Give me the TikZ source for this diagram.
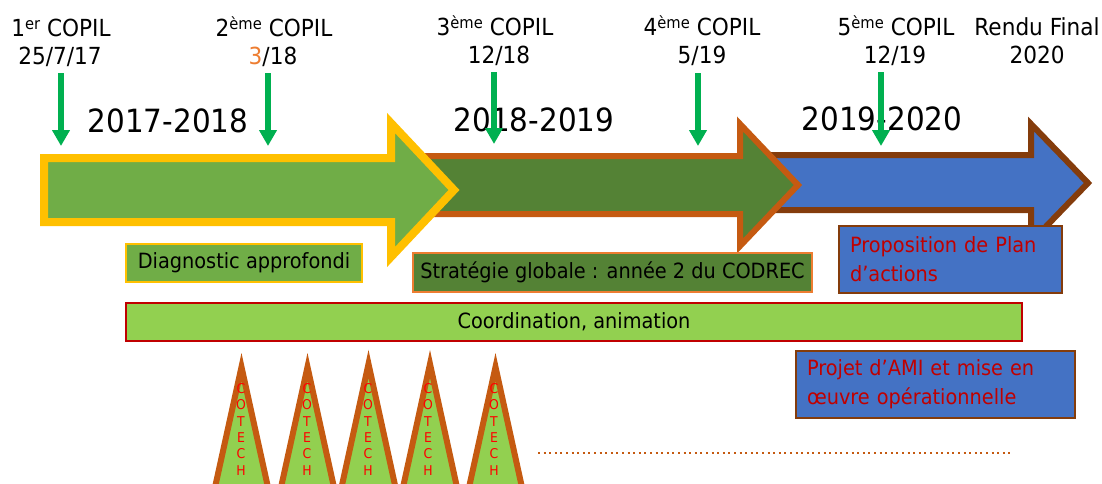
\documentclass[tikz,border=0pt]{standalone}
\usepackage{fontspec}
\setmainfont{DejaVu Sans}[FakeStretch=0.92]
\usetikzlibrary{arrows.meta}
\definecolor{cyellow}{HTML}{FFC000}
\definecolor{cltgreen}{HTML}{70AD47}
\definecolor{cdkgreen}{HTML}{548235}
\definecolor{corange}{HTML}{C55A11}
\definecolor{clorange}{HTML}{ED7D31}
\definecolor{cblue}{HTML}{4472C4}
\definecolor{cbrown}{HTML}{843C0C}
\definecolor{cgreen}{HTML}{00B050}
\definecolor{clime}{HTML}{92D050}
\definecolor{cred}{HTML}{C00000}
\definecolor{cbright}{HTML}{FF0000}
\newcommand{\supx}[1]{\raisebox{6.5pt}{\fontsize{16}{16}\selectfont #1}}
\begin{document}
\begin{tikzpicture}[x=1pt,y=-1pt,
  lbl/.style={inner sep=0pt, anchor=base, font=\fontsize{23.5}{28}\selectfont},
  yr/.style={inner sep=0pt, anchor=base, font=\fontsize{32}{38}\selectfont},
  marker/.style={draw=cgreen, line width=6pt, -{Triangle[width=17pt,length=16pt]}},
  bigarrow/.style={line join=miter, miter limit=20},
  bar/.style={draw, line width=1.2pt, inner sep=0pt, font=\fontsize{21}{29}\selectfont},
  twoline/.style={bar, align=left, inner xsep=11pt, inner ysep=0pt, minimum height=67pt, text=cred},
  tri/.style={draw=corange, fill=clime, line width=6pt, line join=miter, miter limit=20},
  cotech/.style={text=cbright, font=\fontsize{13.5}{16.4}\selectfont, align=center, inner sep=0pt, anchor=north},
  dots/.style={draw=corange, line width=2pt, dash pattern=on 2pt off 3.6pt}
]
\useasboundingbox (0,0) rectangle (1102,483);

% big period arrows
\draw[bigarrow, draw=cbrown, fill=cblue, line width=6pt]
  (760,155) -- (1031,155) -- (1031,124) -- (1088,183) -- (1031,242) -- (1031,210) -- (760,210) -- cycle;
\draw[bigarrow, draw=corange, fill=cdkgreen, line width=6pt]
  (420,156) -- (740,156) -- (740,124) -- (798,185) -- (740,246) -- (740,214) -- (420,214) -- cycle;
\draw[bigarrow, draw=cyellow, fill=cltgreen, line width=8pt]
  (44,158) -- (391,158) -- (391,123) -- (454,190) -- (391,257) -- (391,222) -- (44,222) -- cycle;

% year labels
\node[yr] (y1) at (168,132) {2017-2018};
\node[yr] (y2) at (534,131) {2018-2019};
\node[yr] (y3) at (882,130) {2019-2020};

% COPIL labels
\node[lbl] (c1a) at (61,36) {1\supx{er} COPIL};
\node[lbl] (c1b) at (60,64) {25/7/17};
\node[lbl] (c2a) at (274,36) {2\supx{ème} COPIL};
\node[lbl] (c2b) at (273,64) {\textcolor{clorange}{3}/18};
\node[lbl] (c3a) at (495,35) {3\supx{ème} COPIL};
\node[lbl] (c3b) at (499,63) {12/18};
\node[lbl] (c4a) at (702,35) {4\supx{ème} COPIL};
\node[lbl] (c4b) at (702,63) {5/19};
\node[lbl] (c5a) at (896,35) {5\supx{ème} COPIL};
\node[lbl] (c5b) at (895,63) {12/19};
\node[lbl] (rfa) at (1037,35) {Rendu Final};
\node[lbl] (rfb) at (1037,63) {2020};

% green markers
\coordinate (m1s) at (61,73);  \coordinate (m1e) at (61,146);
\coordinate (m2s) at (268,73); \coordinate (m2e) at (268,146);
\coordinate (m3s) at (494,72); \coordinate (m3e) at (494,144);
\coordinate (m4s) at (698,73); \coordinate (m4e) at (698,146);
\coordinate (m5s) at (881,72); \coordinate (m5e) at (881,146);
\draw[marker] (m1s) -- (m1e);
\draw[marker] (m2s) -- (m2e);
\draw[marker] (m3s) -- (m3e);
\draw[marker] (m4s) -- (m4e);
\draw[marker] (m5s) -- (m5e);

% activity bars
\node[bar, draw=cyellow, fill=cltgreen, minimum width=236pt, minimum height=38pt] (diag) at (244,263) {Diagnostic approfondi};
\node[bar, draw=clorange, fill=cdkgreen, minimum width=399pt, minimum height=39pt] (strat) at (612.5,272.5) {Stratégie globale : année 2 du CODREC};
\node[bar, draw=cred, fill=clime, minimum width=896pt, minimum height=38pt] (coord) at (574,322) {Coordination, animation};
\node[twoline, draw=cbrown, fill=cblue, text width=201pt] (plan) at (950.5,259.5) {Proposition de Plan\\d’actions};
\node[twoline, draw=cbrown, fill=cblue, text width=257pt] (ami) at (935.5,384.5) {Projet d’AMI et mise en\\œuvre opérationnelle};

% COTECH triangles
\draw[tri] (241.5,367) -- (269,492) -- (214,492) -- cycle;
\draw[tri] (307.5,367) -- (335,492) -- (280,492) -- cycle;
\draw[tri] (368.5,364) -- (396.5,492) -- (340.5,492) -- cycle;
\draw[tri] (430,364) -- (458,492) -- (402,492) -- cycle;
\draw[tri] (495.5,367) -- (523,492) -- (468,492) -- cycle;
\node[cotech] (t1) at (241,383) {C\\O\\T\\E\\C\\H};
\node[cotech] (t2) at (307,383) {C\\O\\T\\E\\C\\H};
\node[cotech] (t3) at (368,383) {C\\O\\T\\E\\C\\H};
\node[cotech] (t4) at (428,383) {C\\O\\T\\E\\C\\H};
\node[cotech] (t5) at (494,383) {C\\O\\T\\E\\C\\H};

% dotted continuation
\coordinate (d1) at (538,453);
\coordinate (d2) at (1012,453);
\draw[dots] (d1) -- (d2);
\end{tikzpicture}
\end{document}
